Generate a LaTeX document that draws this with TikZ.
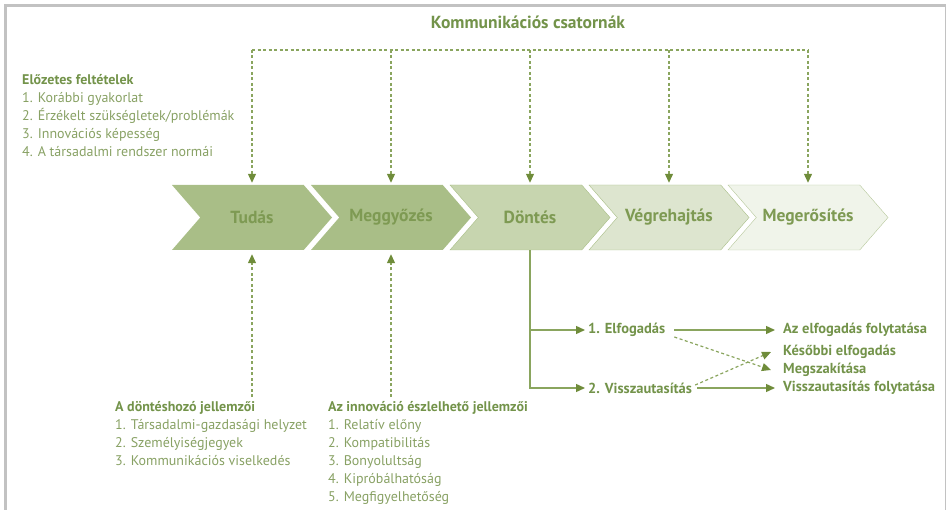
\documentclass[tikz,border=0pt]{standalone}
\usepackage{fontspec}
\setmainfont{PT Sans}
\usetikzlibrary{arrows.meta,shapes.symbols}
\definecolor{leaf}{HTML}{8AA55E}
\definecolor{tipgreen}{HTML}{6F8C3A}
\definecolor{headgreen}{HTML}{73934A}
\definecolor{listgreen}{HTML}{88A164}
\definecolor{stagetext}{HTML}{7E9A53}
\definecolor{fillA}{HTML}{A9BE87}
\definecolor{fillB}{HTML}{C7D5AF}
\definecolor{fillC}{HTML}{DDE5CF}
\definecolor{fillD}{HTML}{F0F4EA}
\definecolor{edgeD}{HTML}{B7C89C}
\definecolor{framegray}{HTML}{C2C2C2}

\tikzset{
  stage/.style={signal, signal to=east, signal from=west, signal pointer angle=98,
    minimum width=160pt, minimum height=65pt, inner sep=0pt, text=stagetext,
    font=\bfseries\fontsize{17.5}{20}\selectfont},
  chan/.style={leaf, line width=1.2pt, dash pattern=on 3pt off 2.5pt},
  flow/.style={leaf, line width=1.3pt},
  arrowend/.style={-{Triangle[length=9pt,width=8pt,color=tipgreen]}},
  txt/.style={text=listgreen, font=\fontsize{14}{18}\selectfont, align=left,
    inner sep=0pt, anchor=north west},
  lab/.style={text=headgreen, font=\bfseries\fontsize{14.5}{17}\selectfont,
    inner sep=0pt, anchor=west}
}
\newcommand{\hd}[1]{{\bfseries\color{headgreen}#1}}

\begin{document}
\begin{tikzpicture}[x=1pt,y=-1pt]
    \useasboundingbox (0,0) rectangle (947,510);
    \draw[framegray, line width=3pt] (5.5,510) -- (5.5,5.5) -- (945.5,5.5);
    \draw[framegray, line width=1.5pt] (945.5,5.5) -- (945.5,510);

    % stages
    \node[stage, fill=fillA] (tudas) at (252,217.5) {Tudás};
    \node[stage, fill=fillA] (meggy) at (391,217.5) {Meggyőzés};
    \node[stage, fill=fillB, draw=fillA] (dontes) at (530,217.5) {Döntés};
    \node[stage, fill=fillC, draw=fillA] (vegre) at (669,217.5) {Végrehajtás};
    \node[stage, fill=fillD, draw=edgeD] (meger) at (808,217.5) {Megerősítés};

    % communication channels
    \node[lab, anchor=center, font=\bfseries\fontsize{17.5}{20}\selectfont] (csat) at (528,22) {Kommunikációs csatornák};
    \coordinate (chL) at (tudas.north |- 0,50);
    \coordinate (chR) at (meger.north |- 0,50);
    \draw[chan] (chL) -- (chR);
    \foreach \s in {tudas,meggy,dontes,vegre,meger}
        \draw[chan, arrowend] (\s.north |- chL) -- ([yshift=2pt]\s.north);

    % text blocks
    \node[txt] (elozetes) at (22,74) {\hd{Előzetes feltételek}\\1. Korábbi gyakorlat\\2. Érzékelt szükségletek/problémák\\3. Innovációs képesség\\4. A társadalmi rendszer normái};
    \node[txt] (dontesh) at (115,401) {\hd{A döntéshozó jellemzői}\\1. Társadalmi-gazdasági helyzet\\2. Személyiségjegyek\\3. Kommunikációs viselkedés};
    \node[txt] (innov) at (328,401) {\hd{Az innováció észlelhető jellemzői}\\1. Relatív előny\\2. Kompatibilitás\\3. Bonyolultság\\4. Kipróbálhatóság\\5. Megfigyelhetőség};
    \draw[chan, arrowend] ([yshift=4pt]tudas.south |- dontesh.north) -- ([yshift=-4pt]tudas.south);
    \draw[chan, arrowend] ([yshift=4pt]meggy.south |- innov.north) -- ([yshift=-4pt]meggy.south);

    % decision outcomes
    \node[lab] (elf) at (588,330) {1. Elfogadás};
    \node[lab] (vissza) at (588,388) {2. Visszautasítás};
    \node[lab] (af) at (783,330) {Az elfogadás folytatása};
    \node[lab] (ke) at (783,352) {Későbbi elfogadás};
    \node[lab] (msz) at (783,370) {Megszakítása};
    \node[lab] (vf) at (783,388) {Visszautasítás folytatása};

    \draw[flow, arrowend] (dontes.south) |- ([xshift=-3pt]vissza.west);
    \draw[flow, arrowend] (dontes.south |- elf.west) -- ([xshift=-3pt]elf.west);
    \draw[flow, arrowend] ([xshift=9pt]elf.east) -- ([xshift=-8pt]af.west);
    \draw[flow, arrowend] ([xshift=5pt]vissza.east) -- ([xshift=-8pt]vf.west);
    \draw[chan, arrowend] ([xshift=9pt,yshift=-7pt]elf.east) -- ([xshift=-12pt]msz.west);
    \draw[chan, arrowend] ([xshift=3pt,yshift=3pt]vissza.east) -- ([xshift=-12pt]ke.west);
\end{tikzpicture}
\end{document}
